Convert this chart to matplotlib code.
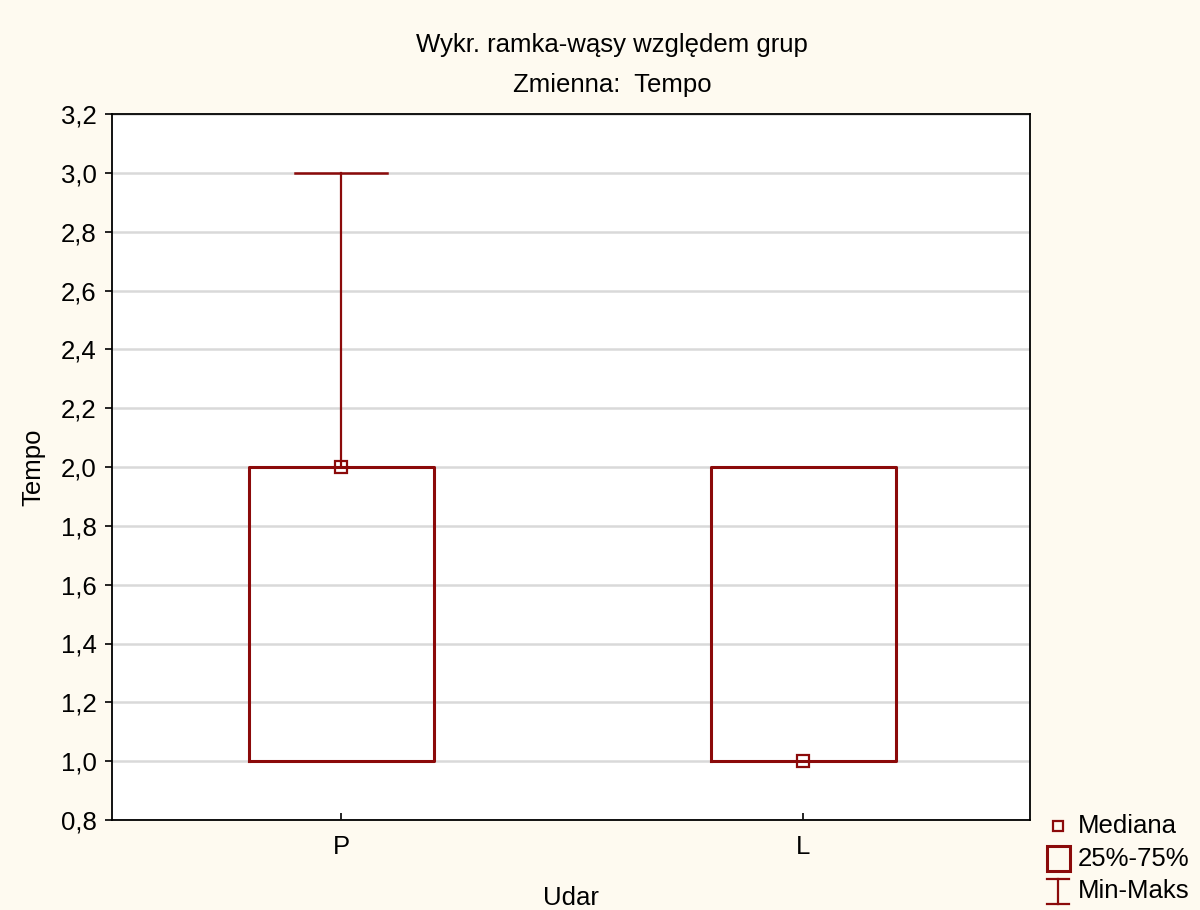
import matplotlib
matplotlib.use("Agg")
import matplotlib.pyplot as plt
from matplotlib.lines import Line2D
from matplotlib.patches import Rectangle

plt.rcParams['font.family'] = ['Liberation Sans', 'DejaVu Sans']

categories = ['P', 'L']
medians = [2.0, 1.0]
q1 = [1.0, 1.0]
q3 = [2.0, 2.0]
mins = [1.0, 1.0]
maxs = [3.0, 2.0]
yticks = [0.8, 1.0, 1.2, 1.4, 1.6, 1.8, 2.0, 2.2, 2.4, 2.6, 2.8, 3.0, 3.2]
ytick_labels = ['0,8', '1,0', '1,2', '1,4', '1,6', '1,8', '2,0', '2,2', '2,4', '2,6', '2,8', '3,0', '3,2']
legend_labels = ['Mediana', '25%-75%', 'Min-Maks']

RED = '#8B0A0A'
BG = '#FEFAF0'
FS = 18.5
W, H = 1200, 910

fig = plt.figure(figsize=(12, 9.1), dpi=100, facecolor=BG)
ax = fig.add_axes([112/W, 90/H, 918/W, 706/H])
ax.set_facecolor('white')

positions = list(range(len(categories)))
stats = []
for i, c in enumerate(categories):
    stats.append(dict(med=medians[i], q1=q1[i], q3=q3[i],
                      whislo=mins[i], whishi=maxs[i], label=c, fliers=[]))

ax.bxp(stats, positions=positions, widths=0.4, capwidths=0.2,
       showfliers=False, patch_artist=False,
       boxprops=dict(color=RED, linewidth=2.2),
       whiskerprops=dict(color=RED, linewidth=1.6),
       capprops=dict(color=RED, linewidth=1.8),
       medianprops=dict(linewidth=0),
       zorder=3)
ax.plot(positions, medians, ls='none', marker='s', ms=8, mfc='none',
        mec=RED, mew=1.6, zorder=4)

ax.set_xlim(-0.496, 1.491)
ax.set_ylim(0.8, 3.2)
ax.set_yticks(yticks)
ax.set_yticklabels(ytick_labels, fontsize=FS)
ax.set_xticks(positions)
ax.set_xticklabels(categories, fontsize=FS)
ax.tick_params(axis='y', direction='out', length=5, width=1.2, pad=6)
ax.tick_params(axis='x', direction='in', length=5, width=1.2, pad=11)
ax.yaxis.grid(True, color='#D9D9D9', linewidth=1.8, zorder=0)
ax.set_axisbelow(True)
for s in ax.spines.values():
    s.set_linewidth(1.3)
    s.set_color('black')

ax.set_ylabel('Tempo', fontsize=FS, labelpad=11)
ax.set_xlabel('Udar', fontsize=FS, labelpad=19)

fig.text(612/W, 1 - 45/H, 'Wykr. ramka-wąsy względem grup', ha='center', va='center', fontsize=FS)
fig.text(612/W, 1 - 85/H, 'Zmienna:  Tempo', ha='center', va='center', fontsize=FS)

# legend drawn at figure level
def fx(px):
    return px / W

def fy(py):
    return 1 - py / H

# Mediana marker
fig.add_artist(Rectangle((fx(1053), fy(831)), 10/W, 10/H, fill=False,
                         edgecolor=RED, linewidth=1.6, transform=fig.transFigure))
# 25%-75% box
fig.add_artist(Rectangle((fx(1047), fy(871)), 23/W, 25/H, fill=False,
                         edgecolor=RED, linewidth=2.2, transform=fig.transFigure))
# Min-Maks I-bar
for (x0, y0, x1, y1) in [(1047, 879, 1069, 879), (1058, 879, 1058, 904), (1047, 904, 1069, 904)]:
    fig.add_artist(Line2D([fx(x0), fx(x1)], [fy(y0), fy(y1)], color=RED,
                          linewidth=1.6, transform=fig.transFigure))
for lab, yc in zip(legend_labels, [826, 859, 891]):
    fig.text(fx(1078), fy(yc), lab, ha='left', va='center', fontsize=FS)

fig.savefig('out.png', dpi=100, facecolor=BG)
